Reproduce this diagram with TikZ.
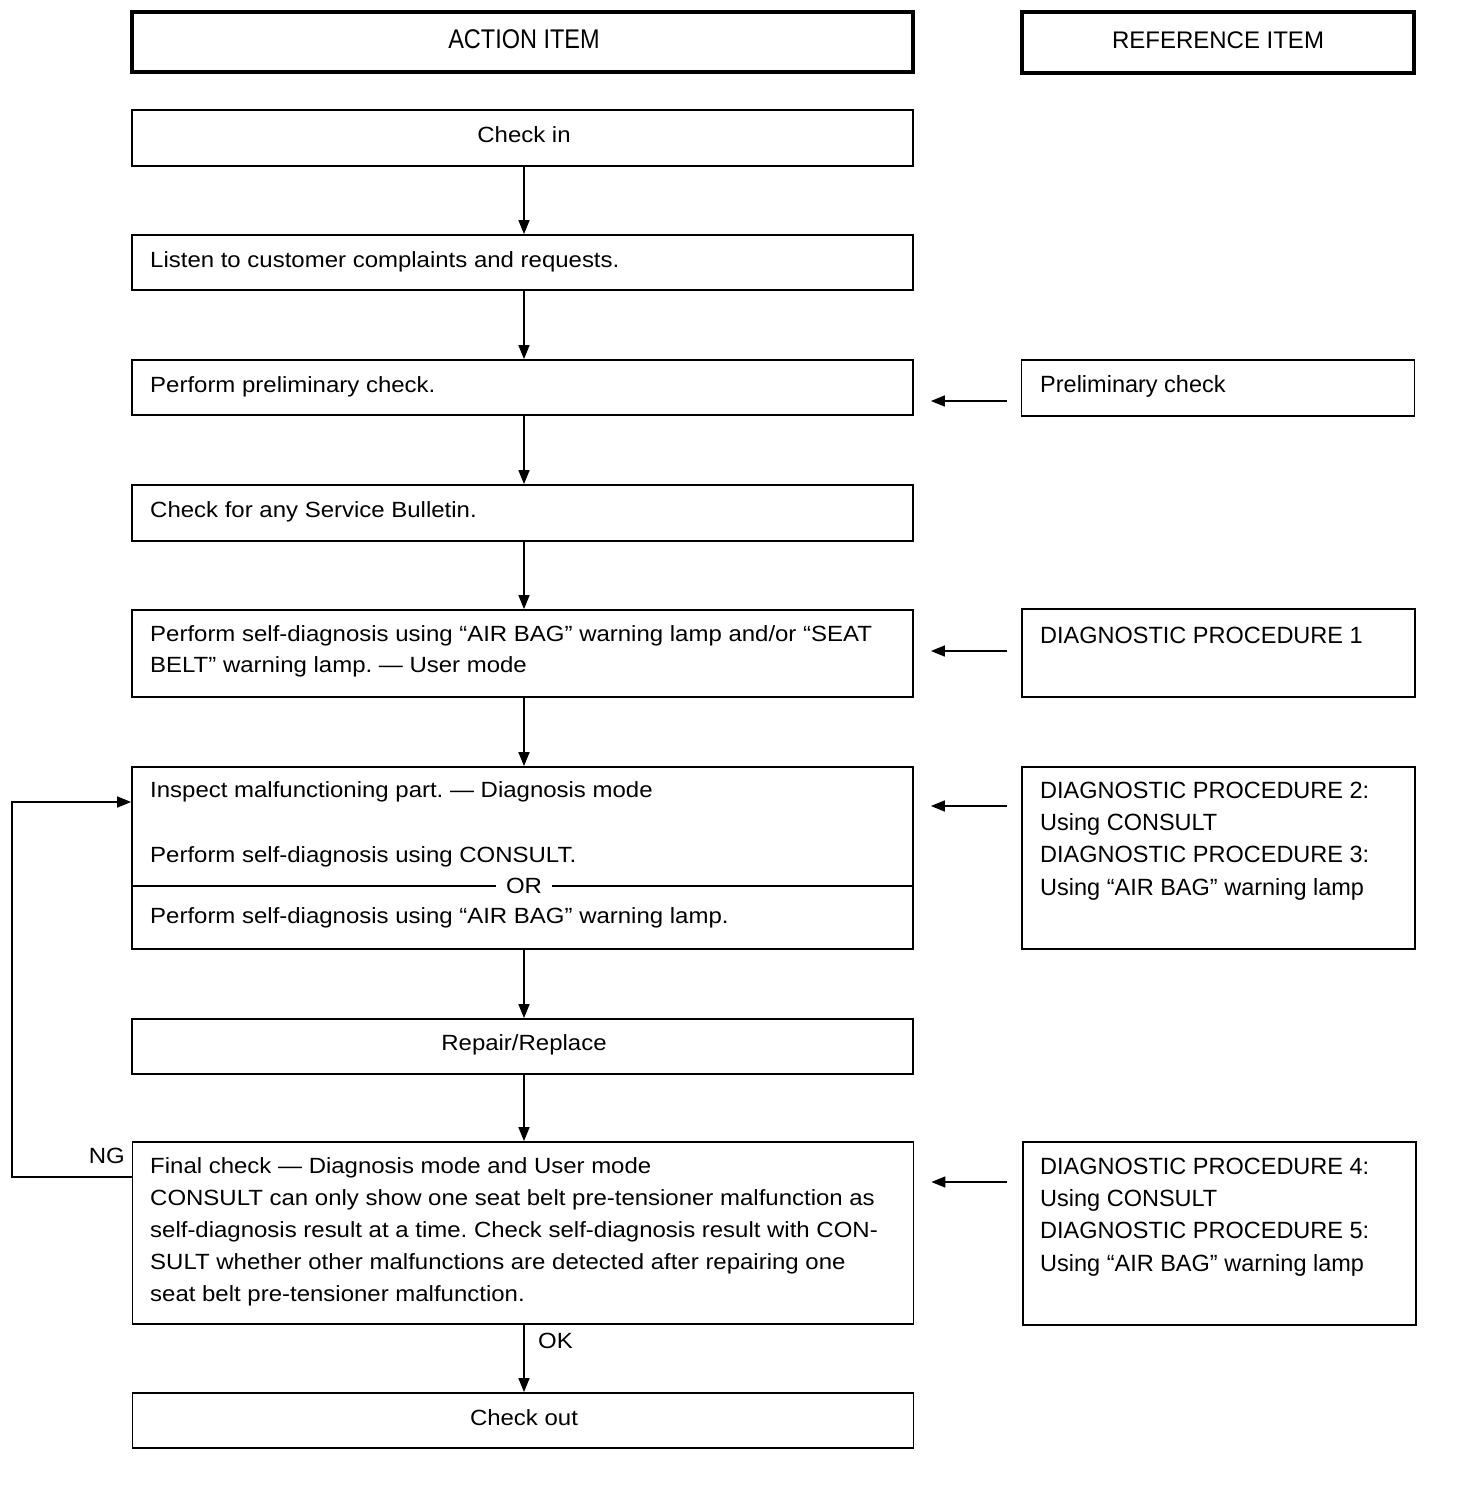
\documentclass[tikz,border=0pt]{standalone}
\usepackage{fontspec}
\setmainfont{Liberation Sans}
\newfontfamily\narrowfont[FakeStretch=1.09]{Liberation Sans}
\newfontfamily\headfont[FakeStretch=0.87]{Liberation Sans}
\usetikzlibrary{arrows.meta}
\tikzset{
  box/.style={draw, line width=1.8pt, inner sep=0pt, minimum width=#1},
  lbox/.style={box=781pt},
  rbox/.style={box=393pt},
  headbox/.style={draw, line width=4pt, inner sep=0pt},
  ltext/.style={inner sep=0pt, align=left, font=\frenchspacing\narrowfont\fontsize{22}{32}\selectfont},
  ctext/.style={inner sep=0pt, anchor=base, font=\frenchspacing\narrowfont\fontsize{22}{32}\selectfont},
  rtext/.style={inner sep=0pt, align=left, anchor=base west, font=\frenchspacing\fontsize{23.5}{32.3}\selectfont},
  arr/.style={line width=1.6pt, -{Triangle[length=14pt,width=11pt]}},
  conn/.style={line width=1.6pt},
}
\begin{document}
\frenchspacing
\begin{tikzpicture}[x=1pt,y=-1pt]
\useasboundingbox (0,0) rectangle (1472,1500);
\fill[white] (0,0) rectangle (1472,1500);
% headers
\node[headbox, minimum width=781pt, minimum height=60pt] (acthead) at (522.5,42) {};
\node[inner sep=0pt, anchor=base, font=\headfont\fontsize{27}{32}\selectfont] (acttxt) at (524,48) {ACTION ITEM};
\node[headbox, minimum width=392pt, minimum height=61pt] (refhead) at (1218,42.5) {};
\node[inner sep=0pt, anchor=base, font=\fontsize{24}{32}\selectfont] (reftxt) at (1218,48) {REFERENCE ITEM};
% left boxes
\node[lbox, minimum height=56pt] (checkin) at (522.5,138) {};
\node[ctext] (checkintxt) at (524,142) {Check in};
\node[lbox, minimum height=55pt] (listen) at (522.5,262.5) {};
\node[ltext, anchor=base west] (listentxt) at (150,267) {Listen to customer complaints and requests.};
\node[lbox, minimum height=55pt] (prelim) at (522.5,387.5) {};
\node[ltext, anchor=base west] (prelimtxt) at (150,392) {Perform preliminary check.};
\node[lbox, minimum height=56pt] (bulletin) at (522.5,513) {};
\node[ltext, anchor=base west] (bulletintxt) at (150,517) {Check for any Service Bulletin.};
\node[lbox, minimum height=87pt] (selfdiag) at (522.5,653.5) {};
\node[ltext, anchor=base west, font=\frenchspacing\narrowfont\fontsize{22}{31}\selectfont] (selfdiagtxt) at (150,672) {Perform self-diagnosis using “AIR BAG” warning lamp and/or “SEAT\\BELT” warning lamp. — User mode};
\node[lbox, minimum height=182pt] (inspect) at (522.5,858) {};
\node[ltext, anchor=base west] (inspectA) at (150,797) {Inspect malfunctioning part. — Diagnosis mode};
\node[ltext, anchor=base west] (inspectB) at (150,862) {Perform self-diagnosis using CONSULT.};
\draw[conn] (inspect.west |- 0,886) -- (inspect.east |- 0,886);
\node[ctext, anchor=center, fill=white, inner xsep=10pt, inner ysep=2pt] (ortxt) at (524,886) {OR};
\node[ltext, anchor=base west] (inspectC) at (150,923) {Perform self-diagnosis using “AIR BAG” warning lamp.};
\node[lbox, minimum height=55pt] (repair) at (522.5,1046.5) {};
\node[ctext] (repairtxt) at (524,1050) {Repair/Replace};
\node[lbox, minimum height=182pt] (final) at (523,1233) {};
\node[ltext, anchor=base west] (finaltxt) at (150,1301) {Final check — Diagnosis mode and User mode\\CONSULT can only show one seat belt pre-tensioner malfunction as\\self-diagnosis result at a time. Check self-diagnosis result with CON-\\SULT whether other malfunctions are detected after repairing one\\seat belt pre-tensioner malfunction.};
\node[lbox, minimum height=55pt] (checkout) at (523,1420.5) {};
\node[ctext] (checkouttxt) at (524,1425) {Check out};
% right boxes
\node[rbox, minimum height=56pt] (refprelim) at (1218,388) {};
\node[rtext] (refprelimtxt) at (1040,392) {Preliminary check};
\node[rbox, minimum height=88pt] (dp1) at (1218.5,653) {};
\node[rtext] (dp1txt) at (1040,643) {DIAGNOSTIC PROCEDURE 1};
\node[rbox, minimum height=182pt] (dp23) at (1218.5,858) {};
\node[rtext] (dp23txt) at (1040,895) {DIAGNOSTIC PROCEDURE 2:\\Using CONSULT\\DIAGNOSTIC PROCEDURE 3:\\Using “AIR BAG” warning lamp};
\node[rbox, minimum height=183pt] (dp45) at (1219.5,1233.5) {};
\node[rtext] (dp45txt) at (1040,1271) {DIAGNOSTIC PROCEDURE 4:\\Using CONSULT\\DIAGNOSTIC PROCEDURE 5:\\Using “AIR BAG” warning lamp};
% vertical flow
\draw[arr] (checkin.south -| 524,0) -- (listen.north -| 524,0);
\draw[arr] (listen.south -| 524,0) -- (prelim.north -| 524,0);
\draw[arr] (prelim.south -| 524,0) -- (bulletin.north -| 524,0);
\draw[arr] (bulletin.south -| 524,0) -- (selfdiag.north -| 524,0);
\draw[arr] (selfdiag.south -| 524,0) -- (inspect.north -| 524,0);
\draw[arr] (inspect.south -| 524,0) -- (repair.north -| 524,0);
\draw[arr] (repair.south -| 524,0) -- (final.north -| 524,0);
\draw[arr] (final.south -| 524,0) -- (checkout.north -| 524,0);
\node[ctext, anchor=base west] (oktxt) at (538,1348) {OK};
% reference arrows
\draw[arr, shorten <=14pt, shorten >=17pt] (refprelim.west |- 0,401) -- (prelim.east |- 0,401);
\draw[arr, shorten <=14pt, shorten >=17pt] (dp1.west |- 0,651) -- (selfdiag.east |- 0,651);
\draw[arr, shorten <=14pt, shorten >=17pt] (dp23.west |- 0,806) -- (inspect.east |- 0,806);
\draw[arr, shorten <=15pt, shorten >=17pt] (dp45.west |- 0,1182) -- (final.east |- 0,1182);
% NG loop
\coordinate (loopbot) at (12,1177);
\coordinate (looptop) at (12,802);
\draw[arr] (final.west |- loopbot) -- (loopbot) -- (looptop) -- (inspect.west |- looptop);
\node[ctext, anchor=base east] (ngtxt) at (125,1163) {NG};
\end{tikzpicture}
\end{document}
